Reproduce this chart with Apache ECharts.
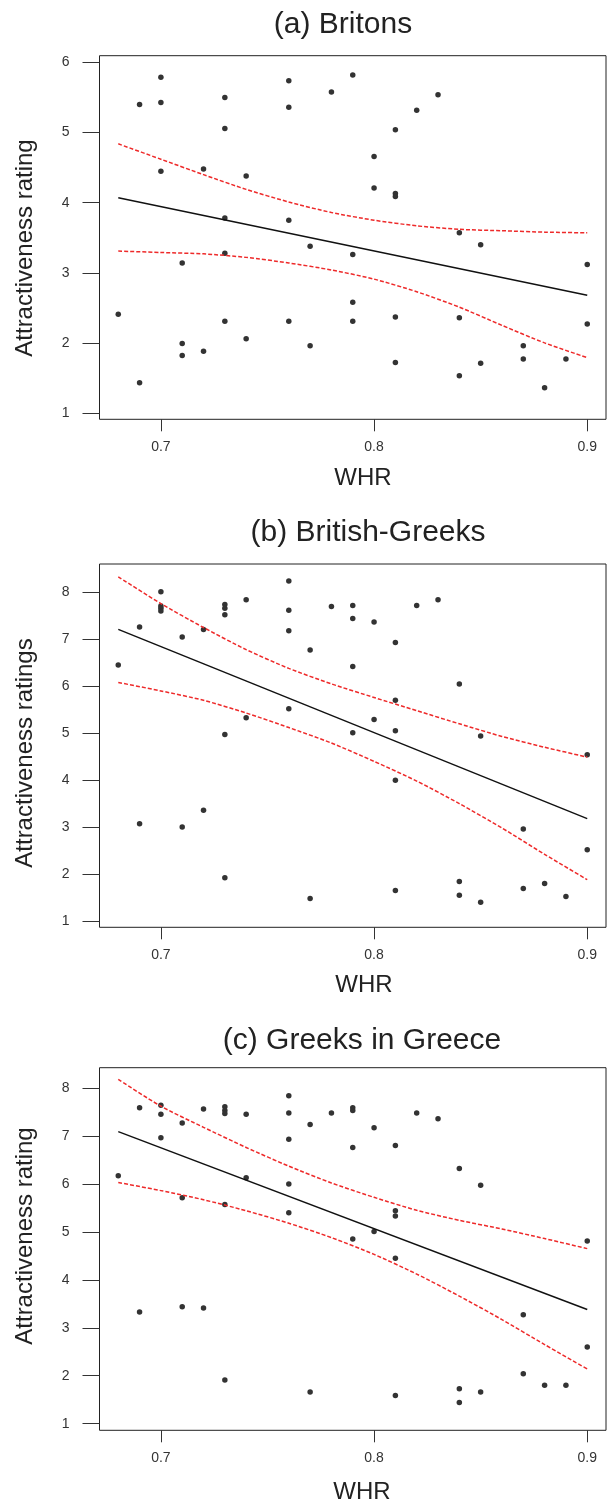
<!DOCTYPE html>
<html>
<head>
<meta charset="utf-8">
<script src="https://cdn.jsdelivr.net/npm/echarts@6/dist/echarts.min.js"></script>
<style>html,body{margin:0;padding:0;background:#fff}#c{width:607px;height:1506px}</style>
</head>
<body>
<div id="c"></div>
<script>
// ---- data ----
const titles = ['(a) Britons', '(b) British-Greeks', '(c) Greeks in Greece'];
const yNames = ['Attractiveness rating', 'Attractiveness ratings', 'Attractiveness rating'];
const xName = 'WHR';
const xTicks = [0.7, 0.8, 0.9];
const yTicksA = [1, 2, 3, 4, 5, 6];
const yTicksB = [1, 2, 3, 4, 5, 6, 7, 8];
const yTicksC = [1, 2, 3, 4, 5, 6, 7, 8];

const xA = [0.69,0.70,0.70,0.70,0.72,0.73,0.73,0.73,0.74,0.76,0.76,0.76,0.78,0.79,0.80,0.80,0.81,0.81,0.81,0.82,0.83,0.84,0.85,0.77,
            0.73,0.79,0.71,0.90,0.68,0.79,0.73,0.76,0.79,0.81,0.84,0.90,0.71,0.71,0.72,0.74,0.77,0.69,0.81,0.84,0.85,0.87,0.87,0.88,0.89];
const yA = [5.40,5.79,5.43,4.45,4.48,5.50,5.06,3.78,4.38,5.74,5.36,3.75,5.58,5.82,4.66,4.21,5.04,4.13,4.09,5.32,5.54,3.57,3.40,3.38,
            3.28,3.26,3.14,3.12,2.41,2.58,2.31,2.31,2.31,2.37,2.36,2.27,1.99,1.82,1.88,2.06,1.96,1.43,1.72,1.53,1.71,1.96,1.77,1.36,1.77];

const xB = [0.68,0.69,0.70,0.70,0.70,0.70,0.71,0.72,0.73,0.73,0.73,0.73,0.74,0.74,0.76,0.76,0.76,0.76,0.77,0.78,0.79,0.79,0.79,0.79,0.80,0.80,0.81,0.81,0.81,0.82,0.83,0.84,0.85,
            0.90,0.81,0.69,0.71,0.72,0.73,0.77,0.81,0.84,0.84,0.85,0.87,0.87,0.88,0.89,0.90];
const yB = [6.45,7.26,8.01,7.71,7.66,7.60,7.05,7.21,7.74,7.66,7.52,4.97,7.84,5.33,8.24,7.62,7.18,5.52,6.77,7.70,7.72,7.44,6.42,5.01,7.37,5.29,6.93,5.70,5.05,7.72,7.84,6.05,4.94,
            4.54,4.00,3.07,3.00,3.36,1.92,1.48,1.65,1.84,1.55,1.40,2.96,1.69,1.80,1.52,2.52];

const xC = [0.68,0.69,0.70,0.70,0.70,0.71,0.71,0.72,0.73,0.73,0.73,0.73,0.74,0.74,0.76,0.76,0.76,0.76,0.76,0.77,0.78,0.79,0.79,0.79,0.79,0.80,0.80,0.81,0.81,0.81,0.82,0.83,0.84,0.85,0.90,
            0.81,0.69,0.71,0.72,0.73,0.77,0.81,0.84,0.84,0.85,0.87,0.87,0.88,0.89,0.90];
const yC = [6.17,7.59,7.64,7.45,6.96,7.27,5.71,7.56,7.61,7.53,7.47,5.57,7.45,6.13,7.84,7.48,6.93,6.00,5.40,7.24,7.48,7.59,7.53,6.76,4.85,7.17,5.01,6.80,5.44,5.33,7.48,7.36,6.32,5.97,4.81,
            4.45,3.33,3.44,3.41,1.91,1.66,1.59,1.73,1.44,1.66,3.27,2.04,1.80,1.80,2.60];

const fitX = [0.68, 0.90];
const fitA = [4.07, 2.68];
const fitB = [7.21, 3.18];
const fitC = [7.09, 3.38];

const bandX  = [0.68,0.70,0.72,0.74,0.76,0.78,0.80,0.82,0.84,0.86,0.88,0.90];
const upperA = [4.84,4.62,4.40,4.19,4.01,3.86,3.75,3.67,3.62,3.60,3.58,3.57];
const lowerA = [3.31,3.29,3.27,3.22,3.14,3.04,2.91,2.73,2.51,2.25,2.00,1.79];
const upperB = [8.33,7.76,7.25,6.78,6.38,6.05,5.76,5.48,5.20,4.93,4.70,4.49];
const lowerB = [6.08,5.90,5.70,5.43,5.12,4.79,4.40,3.98,3.50,2.98,2.42,1.88];
const upperC = [8.18,7.62,7.18,6.76,6.37,6.02,5.72,5.45,5.24,5.06,4.86,4.65];
const lowerC = [6.03,5.86,5.67,5.44,5.18,4.88,4.53,4.12,3.66,3.17,2.65,2.14];

// ---- build chart ----
const FONT = "'Liberation Sans', Arial, Helvetica, sans-serif";
const TXT = '#222';
const zip = (a, b) => a.map((v, i) => [v, b[i]]);

const panels = [
  { x: xA, y: yA, fit: fitA, up: upperA, lo: lowerA, ticks: yTicksA, ymin: 0.910, ymax: 6.097, top: 55.7, h: 363.6 },
  { x: xB, y: yB, fit: fitB, up: upperB, lo: lowerB, ticks: yTicksB, ymin: 0.866, ymax: 8.603, top: 564.0, h: 363.3 },
  { x: xC, y: yC, fit: fitC, up: upperC, lo: lowerC, ticks: yTicksC, ymin: 0.862, ymax: 8.423, top: 1067.7, h: 362.6 }
];
const textPos = [
  { tx: 343, ty: 25, wx: 363, wy: 478.7, ly: 248 },
  { tx: 368, ty: 532.5, wx: 364, wy: 985.8, ly: 753 },
  { tx: 362, ty: 1040.8, wx: 362, wy: 1492.5, ly: 1236 }
];

const grid = [], xAxis = [], yAxis = [], series = [], graphic = [];
panels.forEach((p, i) => {
  grid.push({ left: 99.5, right: 1, top: p.top, height: p.h, show: true,
              borderColor: '#222', borderWidth: 1, backgroundColor: 'transparent' });
  xAxis.push({ type: 'value', gridIndex: i, min: 0.6712, max: 0.9088,
    axisLine: { show: false }, splitLine: { show: false },
    axisTick: { show: true, length: 12, customValues: xTicks, lineStyle: { color: '#333', width: 1 } },
    axisLabel: { show: true, customValues: xTicks, margin: 21, fontSize: 14, color: '#333', fontFamily: FONT } });
  yAxis.push({ type: 'value', gridIndex: i, min: p.ymin, max: p.ymax,
    axisLine: { show: false }, splitLine: { show: false },
    axisTick: { show: true, length: 17, customValues: p.ticks, lineStyle: { color: '#333', width: 1 } },
    axisLabel: { show: true, customValues: p.ticks, margin: 30, fontSize: 14, color: '#333', fontFamily: FONT } });
  series.push({ type: 'scatter', xAxisIndex: i, yAxisIndex: i, data: zip(p.x, p.y),
    symbol: 'circle', symbolSize: 5.5, itemStyle: { color: '#333', opacity: 1 }, z: 2 });
  series.push({ type: 'line', xAxisIndex: i, yAxisIndex: i, data: zip(bandX, p.up), smooth: 0.25,
    symbol: 'none', lineStyle: { color: '#ee2a2a', width: 1.5, type: [4, 2] }, z: 3 });
  series.push({ type: 'line', xAxisIndex: i, yAxisIndex: i, data: zip(bandX, p.lo), smooth: 0.25,
    symbol: 'none', lineStyle: { color: '#ee2a2a', width: 1.5, type: [4, 2] }, z: 3 });
  series.push({ type: 'line', xAxisIndex: i, yAxisIndex: i, data: zip(fitX, p.fit),
    symbol: 'none', lineStyle: { color: '#111', width: 1.5 }, z: 4 });
  const t = textPos[i];
  graphic.push({ type: 'text', x: t.tx, y: t.ty, style: { text: titles[i], font: '30px ' + FONT, fill: TXT, textAlign: 'center', textVerticalAlign: 'middle' } });
  graphic.push({ type: 'text', x: t.wx, y: t.wy, style: { text: xName, font: '24px ' + FONT, fill: TXT, textAlign: 'center', textVerticalAlign: 'middle' } });
  graphic.push({ type: 'text', x: 25, y: t.ly, rotation: Math.PI / 2, style: { text: yNames[i], font: '24px ' + FONT, fill: TXT, textAlign: 'center', textVerticalAlign: 'middle' } });
});

const chart = echarts.init(document.getElementById('c'), null, { renderer: 'canvas' });
chart.setOption({ animation: false, backgroundColor: '#fff', grid, xAxis, yAxis, series, graphic });
</script>
</body>
</html>
